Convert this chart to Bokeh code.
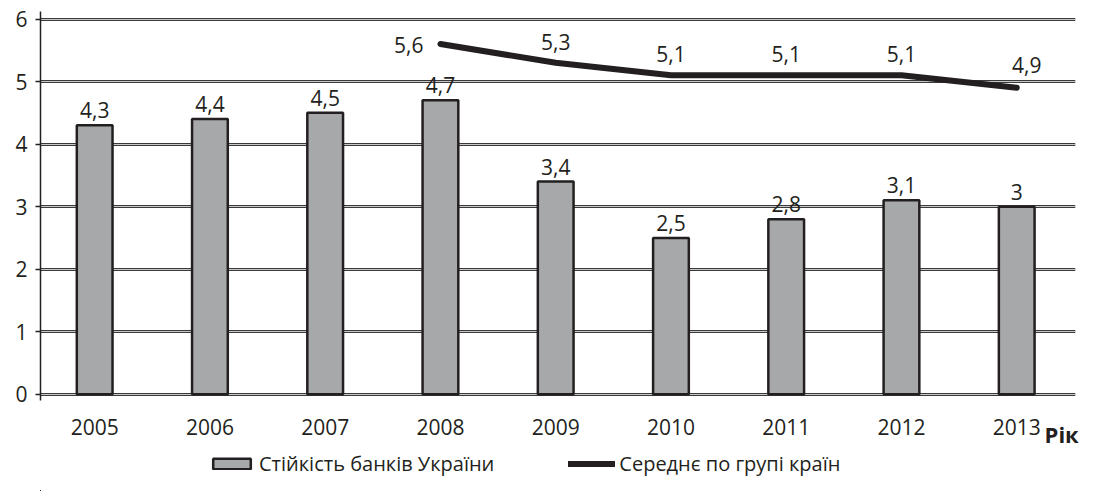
from bokeh.plotting import figure
from bokeh.layouts import column
from bokeh.models import (ColumnDataSource, FixedTicker, Grid, Legend, LegendItem,
                          LinearAxis, Range1d)
from bokeh.core.properties import value
from bokeh.embed import file_html
from bokeh.resources import INLINE

years = ["2005", "2006", "2007", "2008", "2009", "2010", "2011", "2012", "2013"]
ukraine = [4.3, 4.4, 4.5, 4.7, 3.4, 2.5, 2.8, 3.1, 3.0]
avg_years = ["2008", "2009", "2010", "2011", "2012", "2013"]
avg_vals = [5.6, 5.3, 5.1, 5.1, 5.1, 4.9]
y_ticks = [0, 1, 2, 3, 4, 5, 6]
series_names = ["Стійкість банків України", "Середнє по групі країн"]
x_title = "Рік"

FONT = "Open Sans"
DARK = "#231f20"
BAR = "#a7a8aa"
FS = "21px"


def fmt(v):
    return str(int(v)) if float(v).is_integer() else str(v).replace(".", ",")


xi = list(range(len(years)))
bar_src = ColumnDataSource(dict(x=xi, top=ukraine, lab=[fmt(v) for v in ukraine]))
ax = [years.index(y) for y in avg_years]
line_src = ColumnDataSource(dict(x=ax, y=avg_vals, lab=[fmt(v) for v in avg_vals]))

p = figure(width=1100, height=451, output_backend="svg", toolbar_location=None,
           x_range=Range1d(-0.47, 8.51), y_range=Range1d(-0.1, 6.12),
           min_border_left=40, min_border_right=25, min_border_top=11,
           min_border_bottom=46)
p.outline_line_color = None
p.background_fill_color = "white"

p.xgrid.visible = False
p.ygrid.ticker = FixedTicker(ticks=y_ticks)
p.ygrid.grid_line_color = "#3a3a3a"
p.ygrid.grid_line_width = 3
g2 = Grid(dimension=1, ticker=FixedTicker(ticks=y_ticks), grid_line_color="#c8c8c8",
          grid_line_width=1)
p.add_layout(g2)

p.vbar(x="x", top="top", width=0.31, source=bar_src, fill_color=BAR,
       line_color=DARK, line_width=2.5)
p.line(x="x", y="y", source=line_src, line_color=DARK, line_width=6,
       line_cap="round", line_join="round")

p.text(x="x", y="top", text="lab", source=bar_src, text_align="center",
       text_baseline="bottom", y_offset=-7, text_font=value(FONT),
       text_font_size=FS, text_color=DARK)

# line labels
first = ColumnDataSource(dict(x=ax[:1], y=avg_vals[:1], lab=[fmt(avg_vals[0])]))
mid = ColumnDataSource(dict(x=ax[1:-1], y=avg_vals[1:-1], lab=[fmt(v) for v in avg_vals[1:-1]]))
last = ColumnDataSource(dict(x=ax[-1:], y=avg_vals[-1:], lab=[fmt(avg_vals[-1])]))
p.text(x="x", y="y", text="lab", source=first, text_align="right", text_baseline="middle",
       x_offset=-17, y_offset=1, text_font=value(FONT), text_font_size=FS, text_color=DARK)
p.text(x="x", y="y", text="lab", source=mid, text_align="center", text_baseline="bottom",
       y_offset=-13, text_font=value(FONT), text_font_size=FS, text_color=DARK)
p.text(x="x", y="y", text="lab", source=last, text_align="center", text_baseline="bottom",
       x_offset=10, y_offset=-15, text_font=value(FONT), text_font_size=FS, text_color=DARK)

p.xaxis.ticker = FixedTicker(ticks=xi)
p.xaxis.major_label_overrides = {i: y for i, y in zip(xi, years)}
p.xaxis.axis_line_color = None
p.xaxis.major_tick_line_color = None
p.xaxis.minor_tick_line_color = None
p.xaxis.major_label_standoff = 12
p.xaxis.major_label_text_font = FONT
p.xaxis.major_label_text_font_size = FS
p.xaxis.major_label_text_color = DARK

# axis title "Рік" at the right end, on the line of the year labels
title_pos = 8.39
title_axis = LinearAxis(ticker=FixedTicker(ticks=[title_pos]),
                        major_label_overrides={title_pos: x_title},
                        axis_line_color=None, major_tick_line_color=None,
                        minor_tick_line_color=None, major_label_standoff=-25,
                        major_label_text_font=FONT, major_label_text_font_size="22px",
                        major_label_text_font_style="bold", major_label_text_color=DARK)
p.add_layout(title_axis, "below")

p.yaxis.ticker = FixedTicker(ticks=y_ticks)
p.yaxis.axis_line_color = DARK
p.yaxis.axis_line_width = 1.5
p.yaxis.major_tick_line_color = DARK
p.yaxis.major_tick_line_width = 1.5
p.yaxis.major_tick_in = 0
p.yaxis.major_tick_out = 5
p.yaxis.minor_tick_line_color = None
p.yaxis.major_label_standoff = 8
p.yaxis.major_label_text_font = FONT
p.yaxis.major_label_text_font_size = FS
p.yaxis.major_label_text_color = DARK

# legend strip below the chart (its renderers sit outside the strip's visible range)
lg = figure(width=1100, height=40, output_backend="svg", toolbar_location=None,
            x_range=Range1d(100, 101), y_range=Range1d(100, 101),
            x_axis_location=None, y_axis_location=None, min_border=0)
lg.outline_line_color = None
lg.xgrid.visible = False
lg.ygrid.visible = False
lb = lg.vbar(x="x", top="top", width=0.3, source=bar_src, fill_color=BAR,
             line_color=DARK, line_width=2.5)
ll = lg.line(x="x", y="y", source=line_src, line_color=DARK, line_width=6,
             line_cap="round")
legend = Legend(items=[LegendItem(label=series_names[0], renderers=[lb]),
                       LegendItem(label=series_names[1], renderers=[ll])],
                orientation="horizontal", location=(168, 14), spacing=74,
                glyph_width=47, glyph_height=13, label_standoff=4, padding=0, margin=0,
                border_line_color=None, background_fill_alpha=0,
                label_text_font=FONT, label_text_font_size="20px", label_text_color=DARK)
lg.add_layout(legend, "center")

layout = column(p, lg, spacing=0)
open("out.html", "w").write(file_html(layout, INLINE))
